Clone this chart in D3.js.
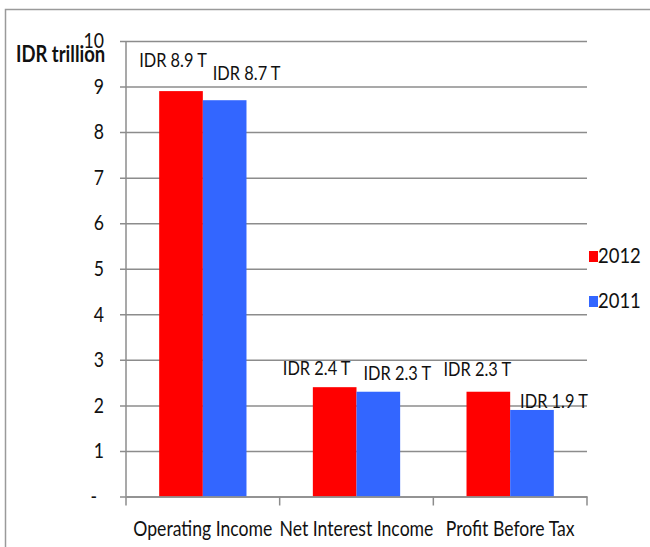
<!DOCTYPE html>
<html><head><meta charset="utf-8">
<script src="https://cdn.jsdelivr.net/npm/d3@7"></script>
<style>
html,body{margin:0;padding:0;background:#fff;}
text{font-family:Lato,"Liberation Sans",sans-serif;fill:#111;}
</style></head>
<body><svg id="c" width="650" height="547"></svg>
<script>
const categories = ["Operating Income", "Net Interest Income", "Profit Before Tax"];
const seriesNames = ["2012", "2011"];
const values2012 = [8.9, 2.4, 2.3];
const values2011 = [8.7, 2.3, 1.9];
const labels2012 = ["IDR 8.9 T", "IDR 2.4 T", "IDR 2.3 T"];
const labels2011 = ["IDR 8.7 T", "IDR 2.3 T", "IDR 1.9 T"];
const yTicks = [0,1,2,3,4,5,6,7,8,9,10];
const colors = {"2012":"#ff0000","2011":"#3366ff"};

// label nudges (layout only): [dx, dy] relative to bar top centre
const nudge = {
  "2012": [[-8,-24],[-18,-12],[-11,-16]],
  "2011": [[22,-20],[19,-12],[22,-2]]
};
const SX = 0.84; // horizontal compression of the lettering

// compress a text horizontally around its anchor x
function squeeze(sel, sx){
  sel.each(function(){
    const t = d3.select(this);
    const x = +t.attr("x") || 0;
    t.attr("transform",`translate(${x},0) scale(${sx},1) translate(${-x},0)`);
  });
}

const svg = d3.select("#c");
// frame
svg.append("path").attr("d","M5.5,547 V9.5 H650").attr("fill","none").attr("stroke","#9a9a9a").attr("stroke-width",1.5);

const pL=126, pR=587, pT=41, pB=496.5;
const x0 = d3.scaleBand().domain(categories).range([pL,pR]).padding(0);
const x1 = d3.scaleBand().domain(seriesNames).range([0,x0.bandwidth()]).paddingInner(0).paddingOuter(0.76);
const y = d3.scaleLinear().domain([0,10]).range([pB,pT]);

// gridlines + y axis
const yAxis = d3.axisLeft(y).tickValues(yTicks).tickSize(-(pR-pL)).tickPadding(22)
  .tickFormat(d => d===0 ? "-" : d3.format("d")(d));
const gy = svg.append("g").attr("transform",`translate(${pL},0)`).call(yAxis);
gy.select(".domain").remove();
gy.selectAll(".tick line").attr("stroke","#8c8c8c").attr("stroke-width",1.5).attr("x1",-6);
gy.selectAll(".tick text").attr("font-size",21).attr("fill","#111").style("font-family","Lato,sans-serif")
  .attr("x",d=> d===0 ? -29 : -22);
squeeze(gy.selectAll(".tick text"), SX);
svg.append("line").attr("x1",pL).attr("x2",pL).attr("y1",pT).attr("y2",pB)
  .attr("stroke","#8c8c8c").attr("stroke-width",1.5);

// bars
const data = categories.map((c,i)=>({cat:c, vals:[
  {s:"2012", v:values2012[i], lab:labels2012[i], i},
  {s:"2011", v:values2011[i], lab:labels2011[i], i}]}));
const g = svg.append("g");
const grp = g.selectAll("g.cat").data(data).join("g").attr("transform",d=>`translate(${x0(d.cat)},0)`);
grp.selectAll("rect").data(d=>d.vals).join("rect")
  .attr("x",d=>x1(d.s)).attr("width",x1.bandwidth())
  .attr("y",d=>y(d.v)).attr("height",d=>y(0)-y(d.v))
  .attr("fill",d=>colors[d.s]);
const labs = grp.selectAll("text.lab").data(d=>d.vals).join("text").attr("class","lab")
  .attr("x",d=>x1(d.s)+x1.bandwidth()/2+nudge[d.s][d.i][0])
  .attr("y",d=>y(d.v)+nudge[d.s][d.i][1])
  .attr("text-anchor","middle").attr("font-size",19.5).text(d=>d.lab);
squeeze(labs, SX);

// x axis
const xAxis = d3.axisBottom(x0).tickSize(0).tickPadding(25);
const gx = svg.append("g").attr("transform",`translate(0,${pB})`).call(xAxis);
gx.select(".domain").attr("stroke","#8c8c8c").attr("stroke-width",1.5);
gx.selectAll(".tick text").attr("font-size",21).attr("fill","#111").style("font-family","Lato,sans-serif");
squeeze(gx.selectAll(".tick text"), SX);
const bounds = [pL, ...categories.map(c=>x0(c)+x0.bandwidth())];
gx.selectAll("line.sep").data(bounds).join("line").attr("class","sep")
  .attr("x1",d=>d).attr("x2",d=>d).attr("y1",0).attr("y2",9)
  .attr("stroke","#8c8c8c").attr("stroke-width",1.5);

// axis title
const ttl = svg.append("text").attr("x",16).attr("y",62).attr("font-size",22).attr("font-weight","bold").text("IDR trillion");
squeeze(ttl, SX);

// legend
const lg = svg.append("g").selectAll("g").data(seriesNames).join("g")
  .attr("transform",(d,i)=>`translate(589,${251+i*45})`);
lg.append("rect").attr("width",9).attr("height",11).attr("fill",d=>colors[d]);
const lt = lg.append("text").attr("x",9).attr("y",12).attr("font-size",22).text(d=>d);
squeeze(lt, SX);
</script></body></html>
